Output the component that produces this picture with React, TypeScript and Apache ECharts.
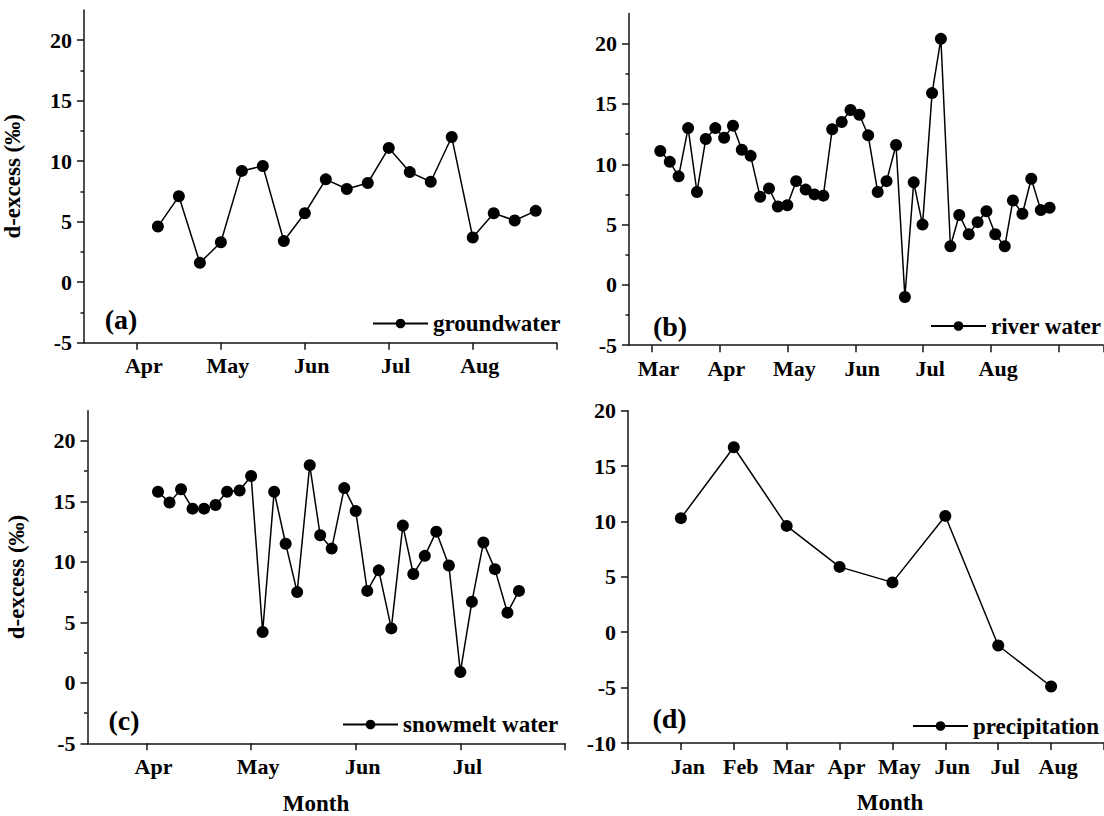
import React, { useEffect, useRef } from 'react';
import * as echarts from 'echarts';

const FONT = "'Times New Roman', 'Liberation Serif', serif";

// month index: Jan = 1 ... Sep = 9
const monthNames = ['Jan', 'Feb', 'Mar', 'Apr', 'May', 'Jun', 'Jul', 'Aug', 'Sep'];

// (a) groundwater
const gwX = [4.25, 4.5, 4.75, 5, 5.25, 5.5, 5.75, 6, 6.25, 6.5, 6.75, 7, 7.25, 7.5, 7.75, 8, 8.25, 8.5, 8.75];
const gwY = [4.6, 7.1, 1.6, 3.3, 9.2, 9.6, 3.4, 5.7, 8.5, 7.7, 8.2, 11.1, 9.1, 8.3, 12.0, 3.7, 5.7, 5.1, 5.9];

// (b) river water
const rvX = [3.13, 3.27, 3.4, 3.54, 3.67, 3.8, 3.94, 4.07, 4.2, 4.33, 4.46, 4.6, 4.73, 4.86, 5.0, 5.13, 5.27, 5.4, 5.53, 5.66, 5.8, 5.93, 6.06, 6.19, 6.33, 6.46, 6.6, 6.73, 6.86, 6.99, 7.13, 7.26, 7.4, 7.53, 7.67, 7.8, 7.93, 8.06, 8.2, 8.32, 8.46, 8.59, 8.73, 8.86];
const rvY = [11.1, 10.2, 9.0, 13.0, 7.7, 12.1, 13.0, 12.2, 13.2, 11.2, 10.7, 7.3, 8.0, 6.5, 6.6, 8.6, 7.9, 7.5, 7.4, 12.9, 13.5, 14.5, 14.1, 12.4, 7.7, 8.6, 11.6, -1.0, 8.5, 5.0, 15.9, 20.4, 3.2, 5.8, 4.2, 5.2, 6.1, 4.2, 3.2, 7.0, 5.9, 8.8, 6.2, 6.4];

// (c) snowmelt water
const smX = [4.11, 4.22, 4.33, 4.44, 4.55, 4.66, 4.77, 4.89, 5.0, 5.11, 5.22, 5.33, 5.44, 5.56, 5.66, 5.77, 5.89, 6.0, 6.11, 6.22, 6.34, 6.45, 6.55, 6.66, 6.77, 6.89, 7.0, 7.11, 7.22, 7.33, 7.45, 7.56];
const smY = [15.8, 14.9, 16.0, 14.4, 14.4, 14.7, 15.8, 15.9, 17.1, 4.2, 15.8, 11.5, 7.5, 18.0, 12.2, 11.1, 16.1, 14.2, 7.6, 9.3, 4.5, 13.0, 9.0, 10.5, 12.5, 9.7, 0.9, 6.7, 11.6, 9.4, 5.8, 7.6];

// (d) precipitation
const prX = [1, 2, 3, 4, 5, 6, 7, 8];
const prY = [10.3, 16.7, 9.6, 5.9, 4.5, 10.5, -1.2, -4.9];

// axis ticks
const yMajor = [-5, 0, 5, 10, 15, 20];
const yMinor = [-2.5, 2.5, 7.5, 12.5, 17.5];
const yMajorD = [-10, -5, 0, 5, 10, 15, 20];
const aTicks = [4, 5, 6, 7, 8, 9];
const aLabels = [4, 5, 6, 7, 8];
const bTicks = [3, 4, 5, 6, 7, 8, 9, 9.65];
const bLabels = [3, 4, 5, 6, 7, 8];
const cTicks = [4, 5, 6, 7, 8];
const cLabels = [4, 5, 6, 7];
const dTicks = [0, 1, 2, 3, 4, 5, 6, 7, 8, 9];
const dLabels = [1, 2, 3, 4, 5, 6, 7, 8];

const AX = '#151515';
const lbl = { fontFamily: FONT, fontWeight: 'bold' as const, fontSize: 22, color: '#000' };

const xAxisCfg = (grid: number, min: number, max: number, ticks: number[], labels: number[]) => ({
  type: 'value', gridIndex: grid, min, max,
  axisLine: { show: true, onZero: false, lineStyle: { color: AX, width: 1.5 } },
  axisTick: { show: true, length: 7, customValues: ticks, lineStyle: { color: AX, width: 1.5 } },
  axisLabel: {
    ...lbl, customValues: labels, margin: 12, padding: [0, 0, 0, 14],
    formatter: (v: number) => monthNames[Math.round(v) - 1],
  },
  splitLine: { show: false },
});

const yAxisCfg = (grid: number, min: number, max: number, ticks: number[], name: string) => ({
  type: 'value', gridIndex: grid, min, max, interval: 5, position: 'left',
  name, nameLocation: 'middle', nameGap: 60, nameRotate: 90,
  nameTextStyle: { fontFamily: FONT, fontWeight: 'bold', fontSize: 23, color: '#000' },
  axisLine: { show: true, onZero: false, lineStyle: { color: AX, width: 1.5 } },
  axisTick: { show: true, length: 7, customValues: ticks, lineStyle: { color: AX, width: 1.5 } },
  axisLabel: { ...lbl, customValues: ticks, margin: 12 },
  splitLine: { show: false },
});

const yMinorCfg = (grid: number) => ({
  type: 'value', gridIndex: grid, min: -5, max: 22.5, position: 'left', offset: 0,
  axisLine: { show: false, onZero: false },
  axisTick: { show: true, length: 3.5, customValues: yMinor, lineStyle: { color: AX, width: 1.5 } },
  axisLabel: { show: false },
  splitLine: { show: false },
});

const seriesCfg = (name: string, xi: number, yi: number, xs: number[], ys: number[]) => ({
  type: 'line', name, xAxisIndex: xi, yAxisIndex: yi,
  data: xs.map((x, i) => [x, ys[i]]),
  symbol: 'circle', symbolSize: 12, showSymbol: true,
  itemStyle: { color: '#000' },
  lineStyle: { color: '#000', width: 1.5 },
});

const legendCfg = (name: string, left: number, top: number) => ({
  data: [name], left, top, padding: 0, itemWidth: 55, itemHeight: 12,
  textStyle: { fontFamily: FONT, fontWeight: 'bold', fontSize: 23, color: '#000' },
});

const textEl = (text: string, x: number, y: number, size: number) => ({
  type: 'text', x, y,
  style: { text, fontFamily: FONT, fontWeight: 'bold', fontSize: size, fill: '#000', align: 'center', verticalAlign: 'middle' },
});

export default function App() {
  const ref = useRef<HTMLDivElement>(null);
  useEffect(() => {
    if (!ref.current) return;
    const chart = echarts.init(ref.current, null, { renderer: 'svg' });
    chart.setOption({
      animation: false,
      backgroundColor: '#fff',
      grid: [
        { left: 80, top: 10, width: 476.7, height: 332.7 },
        { left: 629, top: 13.5, width: 474.3, height: 331.7 },
        { left: 87.5, top: 410.7, width: 477.5, height: 332.6 },
        { left: 628, top: 410.7, width: 476.8, height: 332.3 },
      ],
      xAxis: [
        xAxisCfg(0, 3.37, 9, aTicks, aLabels),
        xAxisCfg(1, 2.67, 9.65, bTicks, bLabels),
        xAxisCfg(2, 3.436, 8, cTicks, cLabels),
        xAxisCfg(3, 0, 9, dTicks, dLabels),
      ],
      yAxis: [
        yAxisCfg(0, -5, 22.5, yMajor, 'd-excess (\u2030)'),
        yMinorCfg(0),
        yAxisCfg(1, -5, 22.5, yMajor, ''),
        yMinorCfg(1),
        yAxisCfg(2, -5, 22.5, yMajor, 'd-excess (\u2030)'),
        yMinorCfg(2),
        yAxisCfg(3, -10, 20, yMajorD, ''),
      ],
      legend: [
        legendCfg('groundwater', 372, 312),
        legendCfg('river water', 930, 314.5),
        legendCfg('snowmelt water', 342, 713),
        legendCfg('precipitation', 912, 714.5),
      ],
      series: [
        seriesCfg('groundwater', 0, 0, gwX, gwY),
        seriesCfg('river water', 1, 2, rvX, rvY),
        seriesCfg('snowmelt water', 2, 4, smX, smY),
        seriesCfg('precipitation', 3, 6, prX, prY),
      ],
      graphic: [
        textEl('(a)', 121, 319, 28),
        textEl('(b)', 670, 326, 28),
        textEl('(c)', 124, 720, 28),
        textEl('(d)', 669.5, 718, 28),
        textEl('Month', 316, 803, 23),
        textEl('Month', 890, 802, 23),
      ],
    });
    return () => chart.dispose();
  }, []);
  return <div ref={ref} style={{ position: 'absolute', left: 0, top: 0, width: 1104, height: 816 }} />;
}
